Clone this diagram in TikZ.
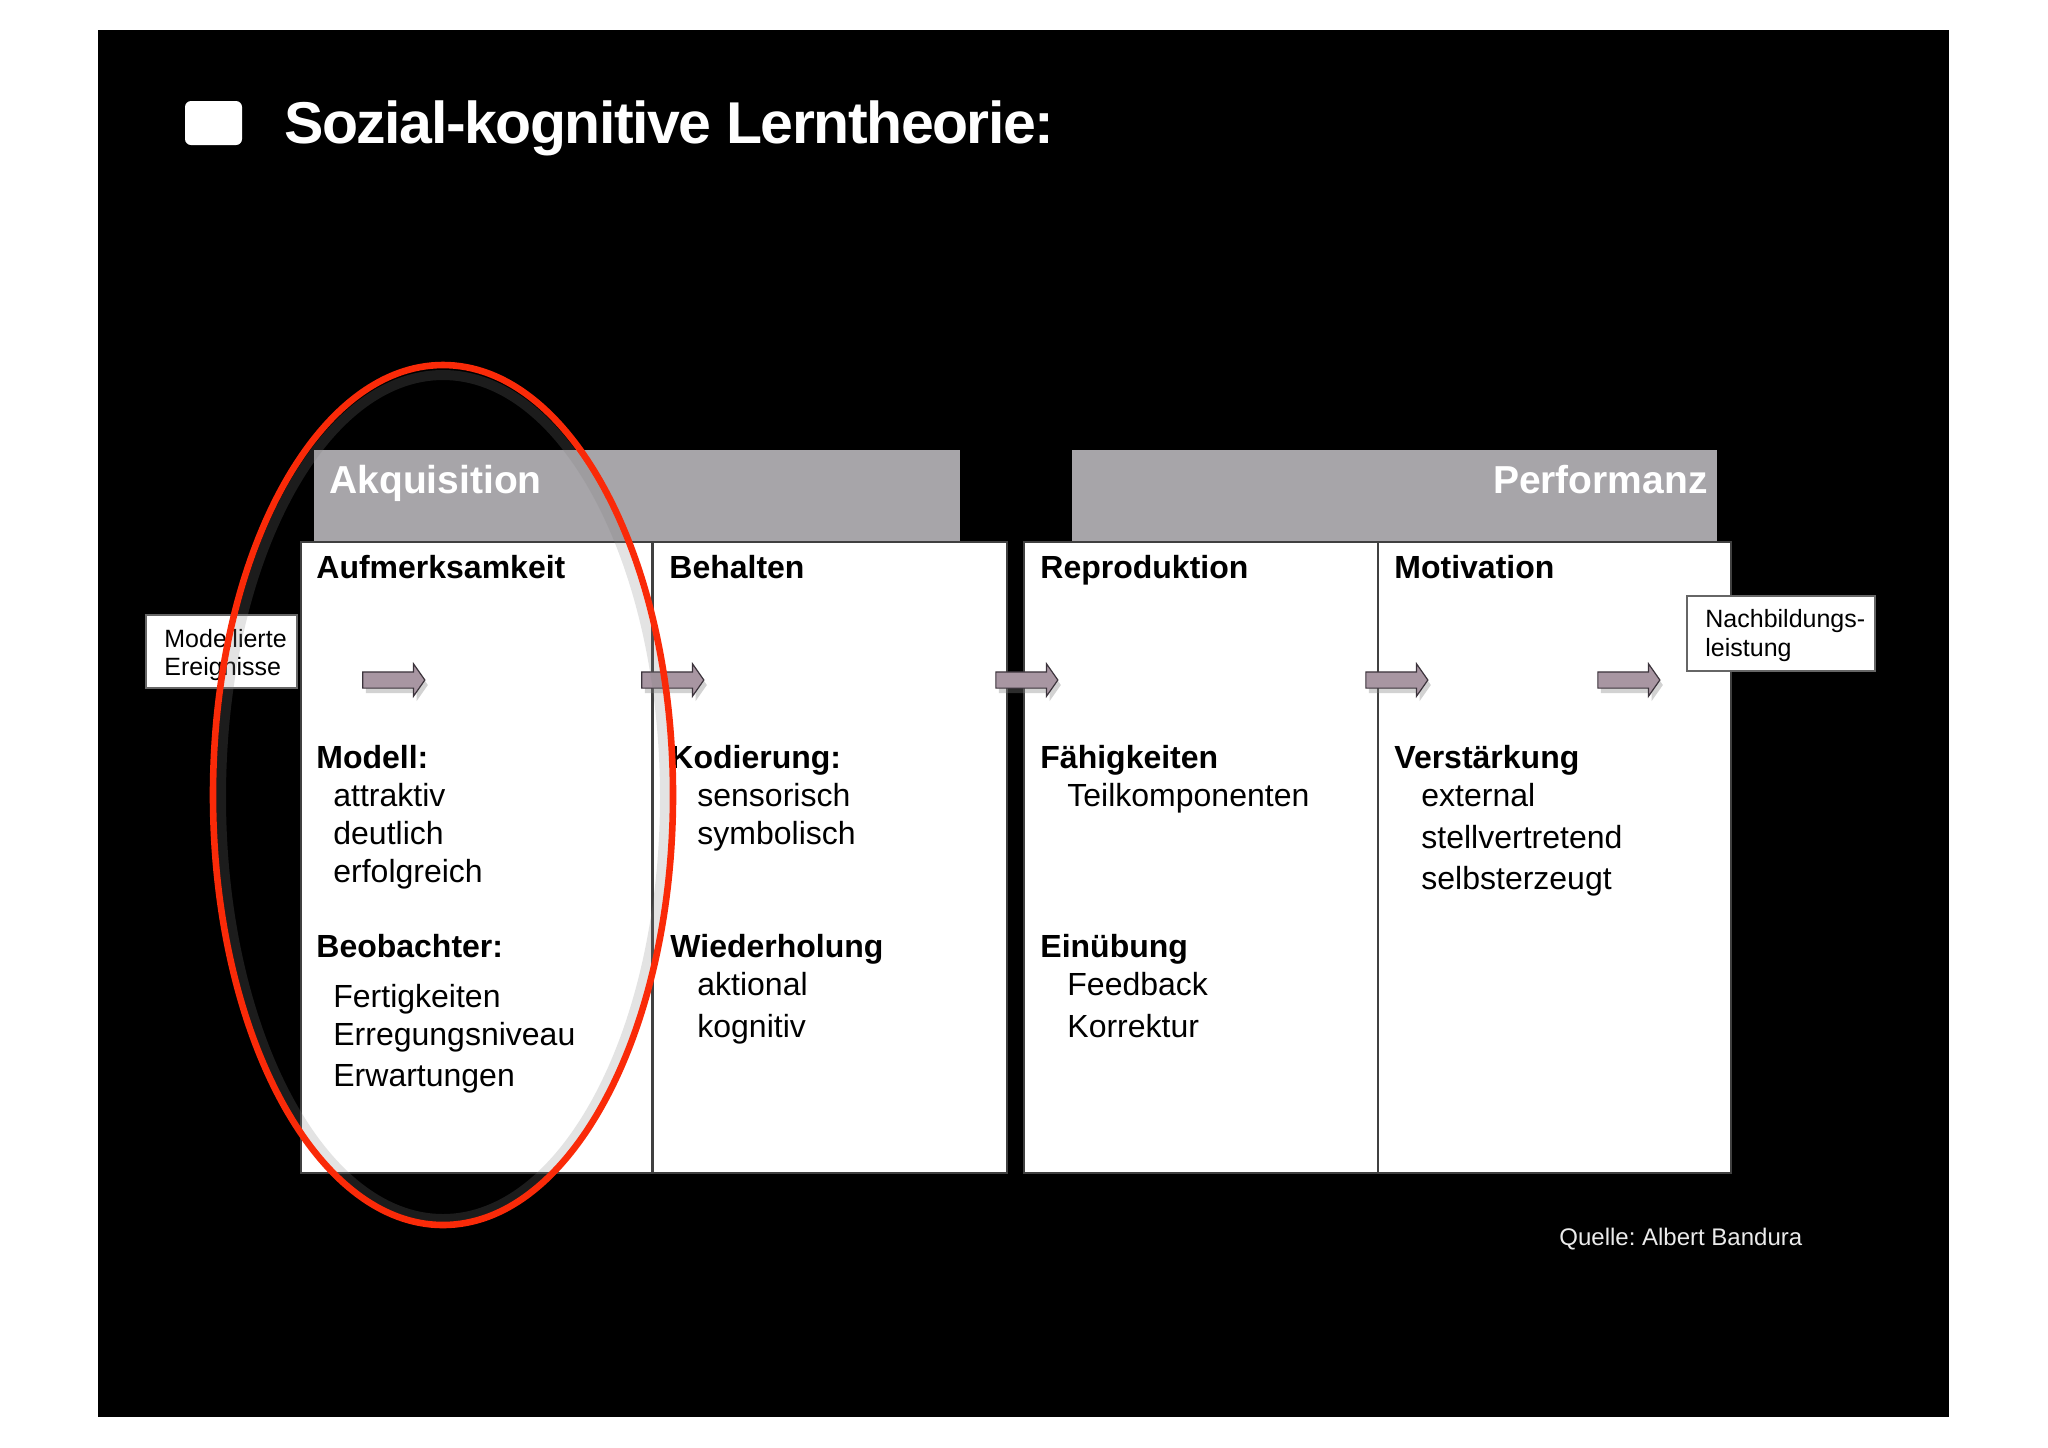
\documentclass[tikz,border=0pt]{standalone}
\usepackage{fontspec}
\setmainfont{Liberation Sans}
\newfontfamily\titlefont[LetterSpace=-2.5]{Liberation Sans}
\usetikzlibrary{shapes.arrows,shadows}
\frenchspacing

\definecolor{barg}{RGB}{167,165,169}
\definecolor{arrf}{RGB}{168,150,162}
\definecolor{arrd}{RGB}{60,52,60}
\definecolor{redl}{RGB}{250,42,8}

\begin{document}
\begin{tikzpicture}[x=0.5pt,y=-0.5pt,
  txt/.style={anchor=base west, inner sep=0pt, font=\fontsize{16pt}{19pt}\selectfont},
  hd/.style={anchor=base west, inner sep=0pt, font=\fontsize{16pt}{19pt}\selectfont\bfseries},
  small/.style={anchor=base west, inner sep=0pt, font=\fontsize{12.5pt}{15pt}\selectfont},
  colbox/.style={draw=black!75, line width=0.8pt, fill=white},
  bar/.style={fill=barg, draw=none},
  bartxt/.style={inner sep=0pt, text=white, font=\fontsize{19.5pt}{23pt}\selectfont\bfseries},
  sidebox/.style={draw=black!60, line width=0.6pt, fill=white},
  blockarrow/.style={single arrow, draw=arrd, fill=arrf, line width=0.6pt,
    minimum height=31pt, minimum width=15.5pt, inner xsep=0pt, inner ysep=3.75pt,
    single arrow head extend=4pt, single arrow tip angle=110,
    drop shadow={opacity=0.35, shadow xshift=1.5pt, shadow yshift=-2.5pt}},
  ring/.style={draw=redl, line width=3.3pt},
  ringglow/.style={draw=gray, line width=5pt, opacity=0.22}
]
% page and background
\fill[white] (0,0) rectangle (2048,1447);
\useasboundingbox (0,0) rectangle (2048,1447);
\fill[black] (98,30) rectangle (1949,1417);

% title
\fill[white, rounded corners=3pt] (185,101) rectangle (242,145);
\node[anchor=base west, inner sep=0pt, text=white,
  font=\titlefont\fontsize{29.5pt}{34pt}\selectfont\bfseries] (title) at (284,143) {Sozial-kognitive Lerntheorie:};

% header bars
\fill[bar] (314,450) rectangle (960,541);
\fill[bar] (1072,450) rectangle (1717,541);
\node[bartxt, anchor=base west] (akq) at (329,493) {Akquisition};
\node[bartxt, anchor=base east] (perf) at (1708,493) {Performanz};

% column boxes
\filldraw[colbox] (301,542) rectangle (652,1173);
\filldraw[colbox] (653,542) rectangle (1007,1173);
\filldraw[colbox] (1024,542) rectangle (1378,1173);
\filldraw[colbox] (1378,542) rectangle (1731,1173);

% column 1
\node[hd]  (h1)  at (316,578)  {Aufmerksamkeit};
\node[hd]  (m1)  at (316,768)  {Modell:};
\node[txt] (m1a) at (333,806)  {attraktiv};
\node[txt] (m1b) at (333,844)  {deutlich};
\node[txt] (m1c) at (333,882)  {erfolgreich};
\node[hd]  (o1)  at (316,957)  {Beobachter:};
\node[txt] (o1a) at (333,1007) {Fertigkeiten};
\node[txt] (o1b) at (333,1045) {Erregungsniveau};
\node[txt] (o1c) at (333,1086) {Erwartungen};

% column 2
\node[hd]  (h2)  at (669,578)  {Behalten};
\node[hd]  (k2)  at (670,768)  {Kodierung:};
\node[txt] (k2a) at (697,806)  {sensorisch};
\node[txt] (k2b) at (697,844)  {symbolisch};
\node[hd]  (w2)  at (670,957)  {Wiederholung};
\node[txt] (w2a) at (697,995)  {aktional};
\node[txt] (w2b) at (697,1037) {kognitiv};

% column 3
\node[hd]  (h3)  at (1040,578)  {Reproduktion};
\node[hd]  (f3)  at (1040,768)  {Fähigkeiten};
\node[txt] (f3a) at (1067,806)  {Teilkomponenten};
\node[hd]  (e3)  at (1040,957)  {Einübung};
\node[txt] (e3a) at (1067,995)  {Feedback};
\node[txt] (e3b) at (1067,1037) {Korrektur};

% column 4
\node[hd]  (h4)  at (1394,578)  {Motivation};
\node[hd]  (v4)  at (1394,768)  {Verstärkung};
\node[txt] (v4a) at (1421,806)  {external};
\node[txt] (v4b) at (1421,848)  {stellvertretend};
\node[txt] (v4c) at (1421,889)  {selbsterzeugt};

% block arrows
\node[blockarrow] (a1) at (391,680) {};
\node[blockarrow] (a2) at (670,680) {};
\node[blockarrow] (a3) at (1024,680) {};
\node[blockarrow] (a4) at (1394,680) {};
\node[blockarrow] (a5) at (1626,680) {};

% side boxes
\filldraw[sidebox] (146,615) rectangle (297,688);
\node[small] (mod1) at (164,647) {Modellierte};
\node[small] (mod2) at (164,675) {Ereignisse};
\filldraw[sidebox] (1687,596) rectangle (1875,671);
\node[small] (nb1) at (1705,627) {Nachbildungs-};
\node[small] (nb2) at (1705,656) {leistung};

% source
\node[anchor=base west, inner sep=0pt, text=white!92!black,
  font=\fontsize{12pt}{14pt}\selectfont] (src) at (1559,1245) {Quelle: Albert Bandura};

% red ring
\draw[ringglow] (443,797) ellipse [x radius=111pt, y radius=211pt];
\draw[ring] (443,795) ellipse [x radius=115pt, y radius=215pt];
\end{tikzpicture}
\end{document}
